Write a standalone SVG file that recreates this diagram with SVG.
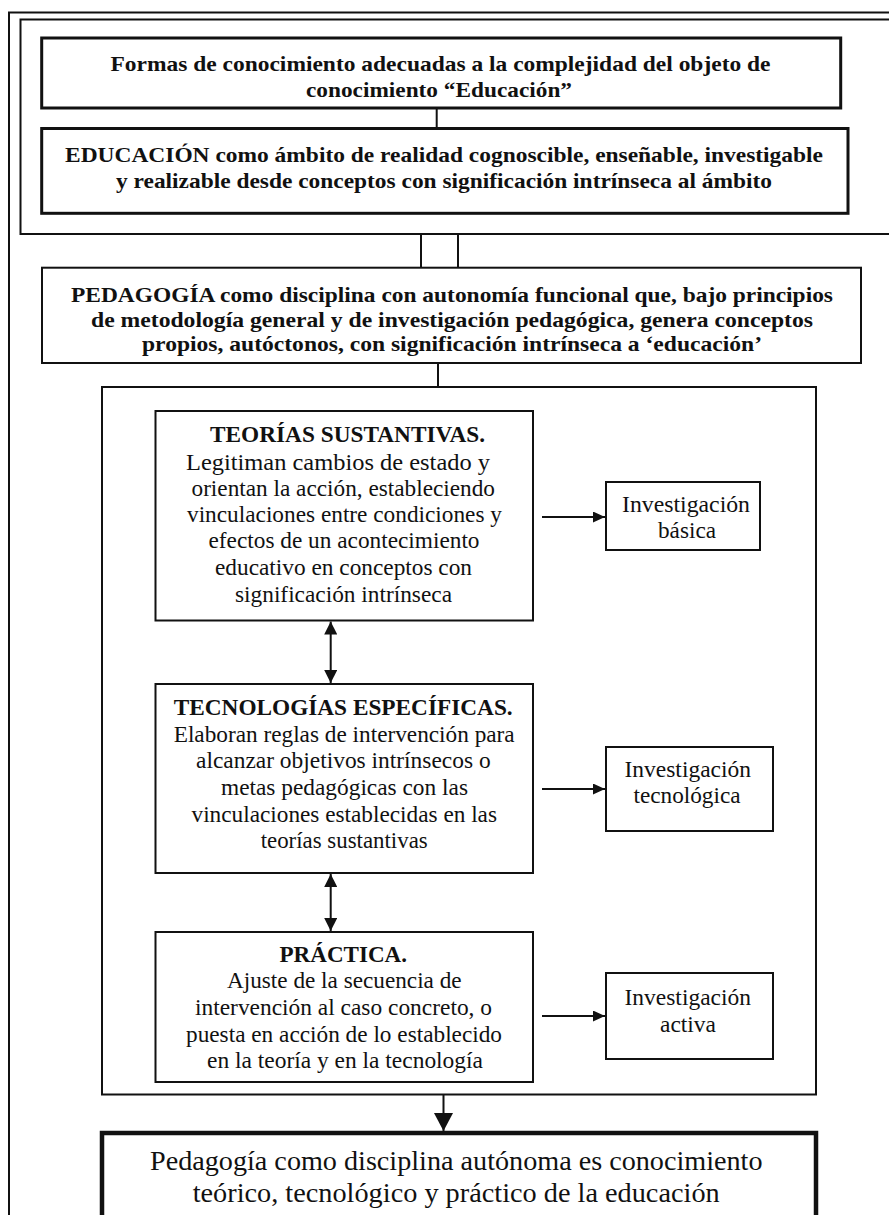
<svg xmlns="http://www.w3.org/2000/svg" width="889" height="1215" viewBox="0 0 889 1215">
  <style>
    .frame { fill: none; stroke: #111; stroke-width: 2; }
    .box { fill: #fff; stroke: #111; stroke-width: 2; }
    .boxb { fill: #fff; stroke: #111; stroke-width: 3; }
    .boxf { fill: #fff; stroke: #111; stroke-width: 4.5; }
    .conn { fill: none; stroke: #111; stroke-width: 2; }
    text { font-family: "Liberation Serif", "Times New Roman", serif; fill: #111; }
    .tb { font-size: 22px; font-weight: bold; }
    .ti { font-size: 23px; }
    .th { font-size: 23px; font-weight: bold; }
    .tf { font-size: 28px; }
  </style>
  <defs>
    <marker id="ah" markerUnits="userSpaceOnUse" markerWidth="12" markerHeight="11" refX="12" refY="5.5" orient="auto">
      <path d="M0,0 L12,5.5 L0,11 z" fill="#111"/>
    </marker>
    <marker id="ad" markerUnits="userSpaceOnUse" markerWidth="13" markerHeight="13" refX="13" refY="6.5" orient="auto-start-reverse">
      <path d="M0,0 L13,6.5 L0,13 z" fill="#111"/>
    </marker>
    <marker id="at" markerUnits="userSpaceOnUse" markerWidth="19" markerHeight="19" refX="18" refY="9.5" orient="auto">
      <path d="M0,0 L18,9.5 L0,19 z" fill="#111"/>
    </marker>
  </defs>
  <rect width="889" height="1215" fill="#fff"/>

  <g id="frames">
    <path class="frame" d="M9,1220 V12.5 H895" stroke-width="1.6"/>
    <path class="frame" d="M895,19.5 H20.5 V234 H895"/>
    <rect class="frame" x="102" y="387" width="714" height="707.5"/>
  </g>

  <g id="connectors">
    <line class="conn" x1="436.7" y1="108" x2="436.7" y2="128.5"/>
    <line class="conn" x1="421" y1="234" x2="421" y2="268"/>
    <line class="conn" x1="458" y1="234" x2="458" y2="268"/>
    <line class="conn" x1="438" y1="363" x2="438" y2="387"/>
    <line class="conn" x1="330.7" y1="621.5" x2="330.7" y2="683" marker-start="url(#ad)" marker-end="url(#ad)"/>
    <line class="conn" x1="330.7" y1="874" x2="330.7" y2="931" marker-start="url(#ad)" marker-end="url(#ad)"/>
    <line class="conn" x1="542" y1="517" x2="605" y2="517" marker-end="url(#ah)"/>
    <line class="conn" x1="542" y1="789" x2="605" y2="789" marker-end="url(#ah)"/>
    <line class="conn" x1="542" y1="1016" x2="605" y2="1016" marker-end="url(#ah)"/>
    <line class="conn" x1="443.5" y1="1095" x2="443.5" y2="1131" stroke-width="5" marker-end="url(#at)"/>
  </g>

  <g id="formas">
    <rect class="boxb" x="41.7" y="38" width="799" height="70"/>
    <text class="tb" x="110.5" y="71" textLength="660" lengthAdjust="spacingAndGlyphs">Formas de conocimiento adecuadas a la complejidad del objeto de</text>
    <text class="tb" x="306" y="96.7" textLength="266" lengthAdjust="spacingAndGlyphs">conocimiento “Educación”</text>
  </g>

  <g id="educacion">
    <rect class="boxb" x="41.7" y="128.5" width="806.3" height="84.8"/>
    <text class="tb" x="65" y="161.7" textLength="758" lengthAdjust="spacingAndGlyphs">EDUCACIÓN como ámbito de realidad cognoscible, enseñable, investigable</text>
    <text class="tb" x="116" y="188" textLength="656" lengthAdjust="spacingAndGlyphs">y realizable desde conceptos con  significación intrínseca al ámbito</text>
  </g>

  <g id="pedagogia">
    <rect class="box" x="42" y="267.7" width="819" height="95.3" stroke-width="2.5"/>
    <text class="tb" x="71" y="301.7" textLength="762" lengthAdjust="spacingAndGlyphs">PEDAGOGÍA como disciplina con autonomía funcional que, bajo principios</text>
    <text class="tb" x="91" y="326.7" textLength="722" lengthAdjust="spacingAndGlyphs">de metodología general y de  investigación pedagógica, genera conceptos</text>
    <text class="tb" x="142" y="351" textLength="620" lengthAdjust="spacingAndGlyphs">propios, autóctonos, con significación intrínseca a ‘educación’</text>
  </g>

  <g id="teorias">
    <rect class="box" x="155.5" y="411" width="377.5" height="209.5"/>
    <text class="th" x="210" y="441.7" textLength="275" lengthAdjust="spacingAndGlyphs">TEORÍAS SUSTANTIVAS.</text>
    <text class="ti" x="186" y="469.5" textLength="304" lengthAdjust="spacingAndGlyphs">Legitiman cambios de estado y</text>
    <text class="ti" x="191.5" y="496" textLength="303.5" lengthAdjust="spacingAndGlyphs">orientan la acción, estableciendo</text>
    <text class="ti" x="187" y="521.7" textLength="315" lengthAdjust="spacingAndGlyphs">vinculaciones entre condiciones y</text>
    <text class="ti" x="208.5" y="548" textLength="271" lengthAdjust="spacingAndGlyphs">efectos de un acontecimiento</text>
    <text class="ti" x="215" y="575" textLength="257" lengthAdjust="spacingAndGlyphs">educativo en conceptos con</text>
    <text class="ti" x="235" y="601.7" textLength="217" lengthAdjust="spacingAndGlyphs">significación intrínseca</text>
  </g>

  <g id="inv-basica">
    <rect class="box" x="606" y="482" width="154" height="68"/>
    <text class="ti" x="622" y="511.7" textLength="128" lengthAdjust="spacingAndGlyphs">Investigación</text>
    <text class="ti" x="658" y="538" textLength="58" lengthAdjust="spacingAndGlyphs">básica</text>
  </g>

  <g id="tecnologias">
    <rect class="box" x="155.5" y="684" width="377.5" height="189"/>
    <text class="th" x="173.7" y="715" textLength="339" lengthAdjust="spacingAndGlyphs">TECNOLOGÍAS ESPECÍFICAS.</text>
    <text class="ti" x="173.7" y="741.7" textLength="341" lengthAdjust="spacingAndGlyphs">Elaboran reglas de intervención para</text>
    <text class="ti" x="196" y="768" textLength="294.6" lengthAdjust="spacingAndGlyphs">alcanzar objetivos intrínsecos o</text>
    <text class="ti" x="221" y="795" textLength="247" lengthAdjust="spacingAndGlyphs">metas pedagógicas con las</text>
    <text class="ti" x="191.5" y="821.7" textLength="305.5" lengthAdjust="spacingAndGlyphs">vinculaciones establecidas en las</text>
    <text class="ti" x="260.7" y="848" textLength="167" lengthAdjust="spacingAndGlyphs">teorías sustantivas</text>
  </g>

  <g id="inv-tecnologica">
    <rect class="box" x="606" y="747" width="167" height="84"/>
    <text class="ti" x="624.5" y="776.7" textLength="126.5" lengthAdjust="spacingAndGlyphs">Investigación</text>
    <text class="ti" x="633.5" y="803" textLength="107" lengthAdjust="spacingAndGlyphs">tecnológica</text>
  </g>

  <g id="practica">
    <rect class="box" x="155.5" y="932" width="377.5" height="150"/>
    <text class="th" x="279.5" y="961.7" textLength="127.5" lengthAdjust="spacingAndGlyphs">PRÁCTICA.</text>
    <text class="ti" x="227" y="988.3" textLength="234.6" lengthAdjust="spacingAndGlyphs">Ajuste de la secuencia de</text>
    <text class="ti" x="195" y="1015" textLength="297" lengthAdjust="spacingAndGlyphs">intervención al caso  concreto, o</text>
    <text class="ti" x="186" y="1041.7" textLength="316" lengthAdjust="spacingAndGlyphs">puesta en acción de lo establecido</text>
    <text class="ti" x="207" y="1068" textLength="276" lengthAdjust="spacingAndGlyphs">en la teoría y en la tecnología</text>
  </g>

  <g id="inv-activa">
    <rect class="box" x="606" y="973" width="167" height="86"/>
    <text class="ti" x="624.5" y="1005" textLength="126.5" lengthAdjust="spacingAndGlyphs">Investigación</text>
    <text class="ti" x="660" y="1031.7" textLength="56" lengthAdjust="spacingAndGlyphs">activa</text>
  </g>

  <g id="conclusion">
    <rect class="boxf" x="102" y="1133" width="714" height="110"/>
    <text class="tf" x="150" y="1170" textLength="612.5" lengthAdjust="spacingAndGlyphs">Pedagogía como disciplina autónoma es conocimiento</text>
    <text class="tf" x="192.7" y="1201.7" textLength="527" lengthAdjust="spacingAndGlyphs">teórico, tecnológico y práctico de la educación</text>
  </g>
</svg>
